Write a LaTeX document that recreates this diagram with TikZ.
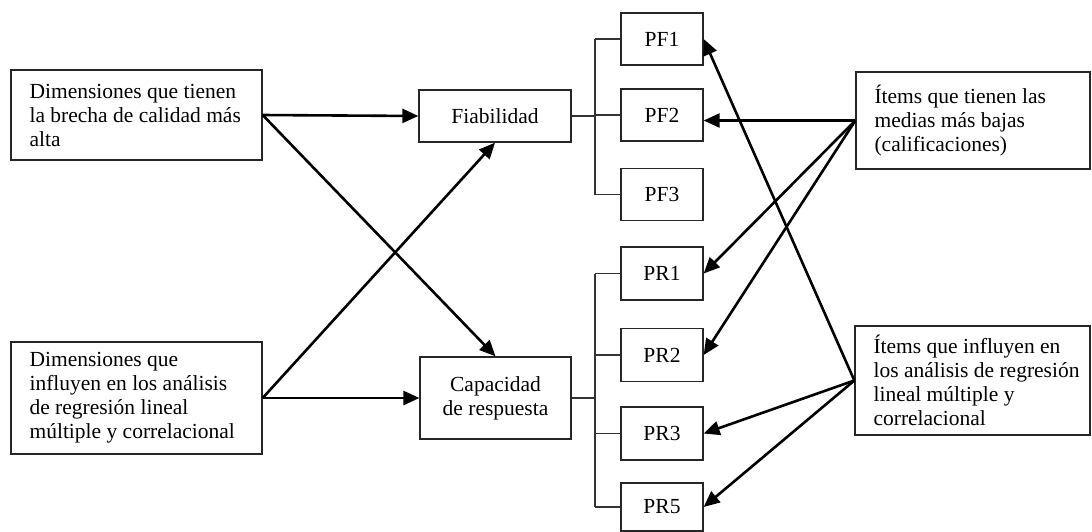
\documentclass[tikz,border=0pt]{standalone}
\usepackage{fontspec}
\setmainfont{Liberation Serif}
\usetikzlibrary{arrows.meta,calc}
\begin{document}
\begin{tikzpicture}[x=1pt,y=-1pt,
  box/.style={draw=black!85, line width=1.3pt, rectangle, inner sep=0pt},
  txt/.style={font=\fontsize{21.5}{24}\selectfont, align=left, inner sep=0pt},
  ctr/.style={font=\fontsize{21.5}{24}\selectfont, align=center},
  arr/.style={line width=2.6pt, -{Triangle[length=16pt,width=14pt]}},
  br/.style={line width=1.3pt, draw=black!80}]
\useasboundingbox (0,0) rectangle (1092,531);
\fill[white] (0,0) rectangle (1092,531);

% left boxes
\node[box, minimum width=251pt, minimum height=90pt] (L1) at (136.5,115) {};
\node[txt, anchor=west] (L1t) at ([xshift=19pt]L1.west) {Dimensiones que tienen\\la brecha de calidad más\\alta};
\node[box, minimum width=251pt, minimum height=112pt] (L2) at (136.5,398) {};
\node[txt, anchor=west] (L2t) at ([xshift=19pt]L2.west) {Dimensiones que\\influyen en los análisis\\de regresión lineal\\múltiple y correlacional};

% middle boxes
\node[box, ctr, minimum width=152pt, minimum height=52pt] (fia) at (495,116) {Fiabilidad};
\node[box, ctr, minimum width=151pt, minimum height=82pt] (cap) at (495.5,398) {Capacidad\\de respuesta};

% item boxes
\node[box, ctr, minimum width=82pt, minimum height=52pt] (PF1) at (662,39) {PF1};
\node[box, ctr, minimum width=82pt, minimum height=52pt] (PF2) at (662,115) {PF2};
\node[box, ctr, minimum width=82pt, minimum height=52pt] (PF3) at (662,194.5) {PF3};
\node[box, ctr, minimum width=82pt, minimum height=53pt] (PR1) at (662,273.5) {PR1};
\node[box, ctr, minimum width=82pt, minimum height=53pt] (PR2) at (662,355) {PR2};
\node[box, ctr, minimum width=82pt, minimum height=53pt] (PR3) at (662,433.5) {PR3};
\node[box, ctr, minimum width=82pt, minimum height=48pt] (PR5) at (662,507) {PR5};

% right boxes
\node[box, minimum width=234pt, minimum height=97pt] (R1) at (973,120.5) {};
\node[txt, anchor=west] (R1t) at ([xshift=19pt]R1.west) {Ítems que tienen las\\medias más bajas\\(calificaciones)};
\node[box, minimum width=235pt, minimum height=109pt] (R2) at (972.5,380.5) {};
\node[txt, anchor=west] (R2t) at ([xshift=19pt]R2.west) {Ítems que influyen en\\los análisis de regresión\\lineal múltiple y\\correlacional};

% brackets
\coordinate (jx) at (595,0);
\draw[br] (fia.east) -- (fia.east -| jx);
\draw[br] (PF1.west -| jx) -- (PF3.west -| jx);
\draw[br] (PF1.west -| jx) -- (PF1.west);
\draw[br] (PF2.west -| jx) -- (PF2.west);
\draw[br] (PF3.west -| jx) -- (PF3.west);
\draw[br] (cap.east) -- (cap.east -| jx);
\draw[br] (PR1.west -| jx) -- (PR5.west -| jx);
\draw[br] (PR1.west -| jx) -- (PR1.west);
\draw[br] (PR2.west -| jx) -- (PR2.west);
\draw[br] (PR3.west -| jx) -- (PR3.west);
\draw[br] (PR5.west -| jx) -- (PR5.west);

% arrows
\draw[arr] (L1.east) -- (fia.west);
\draw[arr] (L1.east) -- (cap.north);
\draw[arr] (L2.east) -- (cap.west);
\draw[arr] (L2.east) -- (fia.south);
\draw[arr] (R1.west) -- (R1.west -| PF2.east);
\draw[arr] (R1.west) -- (PR1.east);
\draw[arr] (R1.west) -- (PR2.east);
\draw[arr] (R2.west) -- (PF1.east);
\draw[arr] (R2.west) -- (PR3.east);
\draw[arr] (R2.west) -- (PR5.east);
\end{tikzpicture}
\end{document}
